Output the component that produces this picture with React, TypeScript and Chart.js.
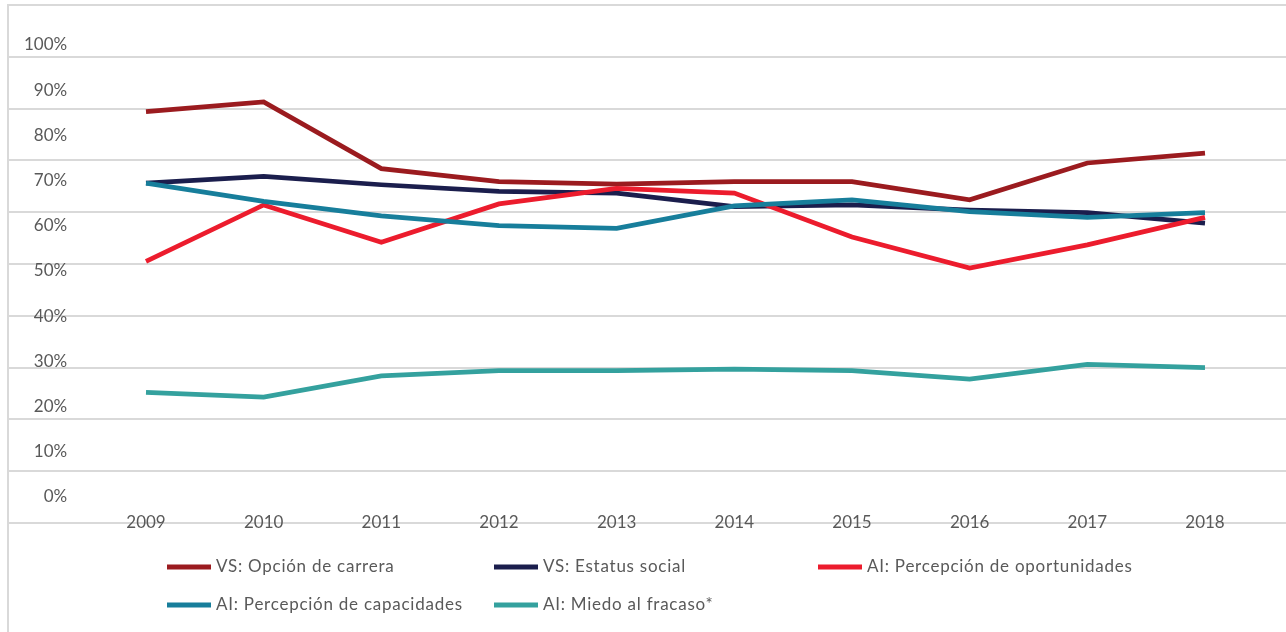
import React, { useEffect, useRef } from "react";
import { Chart, registerables } from "chart.js";

Chart.register(...registerables);

// ---------- data ----------
const years = [2009, 2010, 2011, 2012, 2013, 2014, 2015, 2016, 2017, 2018];
const yTickValues = [0, 10, 20, 30, 40, 50, 60, 70, 80, 90, 100];
const seriesLabels = [
  "VS: Opción de carrera",
  "VS: Estatus social",
  "AI: Percepción de oportunidades",
  "AI: Percepción de capacidades",
  "AI: Miedo al fracaso*",
];
const opcionCarrera = [79.4, 81.3, 68.4, 65.9, 65.4, 65.9, 65.9, 62.4, 69.5, 71.4];
const estatusSocial = [65.6, 66.9, 65.3, 64.0, 63.7, 61.1, 61.4, 60.4, 59.9, 57.9];
const percOportunidades = [50.5, 61.4, 54.2, 61.6, 64.6, 63.7, 55.2, 49.2, 53.7, 59.0];
const percCapacidades = [65.6, 62.1, 59.3, 57.4, 56.9, 61.2, 62.4, 60.1, 59.0, 59.9];
const miedoFracaso = [25.2, 24.3, 28.4, 29.4, 29.4, 29.7, 29.4, 27.8, 30.6, 30.0];

// ---------- styles / layout ----------
const seriesColors = ["#9B1B1F", "#1B1E4D", "#EC1C2D", "#177E9B", "#34A19E"];
const GRID = "#D9D9D9";
const TEXT = "#595959";
const FONT = "Lato, 'Open Sans', sans-serif";
const W = 1286;
const H = 632;
const AREA_LEFT = 8;
const AREA_TOP = 5;
const AREA_BOTTOM = 523;
// x scale range so that the first/last year land where the reference puts them
const X_PX_FIRST = 146;
const X_PX_LAST = 1205;
const pxPerYear = (X_PX_LAST - X_PX_FIRST) / (years[years.length - 1] - years[0]);
const X_MIN = years[0] - (X_PX_FIRST - AREA_LEFT) / pxPerYear;
const X_MAX = X_MIN + (W - AREA_LEFT) / pxPerYear;
// label axis (tick labels are drawn off the grid in the reference)
const LBL_PX_0 = 496.7;
const LBL_PX_100 = 45;
const lblPerUnit = (LBL_PX_0 - LBL_PX_100) / 100;
const LBL_MIN = -(AREA_BOTTOM - LBL_PX_0) / lblPerUnit;
const LBL_MAX = LBL_MIN + (AREA_BOTTOM - AREA_TOP) / lblPerUnit;

const legendSlots = [
  { x: 167, y: 567 },
  { x: 494, y: 567 },
  { x: 818, y: 567 },
  { x: 167, y: 605 },
  { x: 494, y: 605 },
];

const customLegend = {
  id: "customLegend",
  afterDraw(chart: any) {
    const ctx = chart.ctx as CanvasRenderingContext2D;
    ctx.save();
    // outer frame (left edge)
    ctx.strokeStyle = GRID;
    ctx.lineWidth = 2;
    ctx.beginPath();
    ctx.moveTo(8, AREA_TOP - 1);
    ctx.lineTo(8, H);
    ctx.stroke();
    // legend
    ctx.font = `17px ${FONT}`;
    (ctx as any).letterSpacing = "0.75px";
    ctx.textBaseline = "middle";
    ctx.textAlign = "left";
    chart.data.datasets.forEach((ds: any, i: number) => {
      const s = legendSlots[i];
      ctx.strokeStyle = ds.borderColor;
      ctx.lineWidth = 5;
      ctx.lineCap = "butt";
      ctx.beginPath();
      ctx.moveTo(s.x, s.y);
      ctx.lineTo(s.x + 44, s.y);
      ctx.stroke();
      ctx.fillStyle = TEXT;
      ctx.fillText(ds.label, s.x + 49, s.y);
    });
    ctx.restore();
  },
};

const zeroPadding = (s: any) => {
  s.paddingTop = 0;
  s.paddingBottom = 0;
  s.paddingLeft = 0;
  s.paddingRight = 0;
};

export default function App() {
  const ref = useRef<HTMLCanvasElement>(null);

  useEffect(() => {
    if (!ref.current) return;
    const seriesValues = [opcionCarrera, estatusSocial, percOportunidades, percCapacidades, miedoFracaso];
    const chart = new Chart(ref.current, {
      type: "line",
      data: {
        datasets: seriesValues.map((vals, i) => ({
          label: seriesLabels[i],
          data: years.map((yr, j) => ({ x: yr, y: vals[j] })),
          borderColor: seriesColors[i],
          backgroundColor: seriesColors[i],
          borderWidth: 4.75,
          pointRadius: 0,
          tension: 0,
          fill: false,
          order: seriesValues.length - i,
        })),
      },
      options: {
        animation: false,
        responsive: false,
        devicePixelRatio: 1,
        layout: {
          padding: { left: AREA_LEFT, top: AREA_TOP, right: 0, bottom: H - AREA_BOTTOM },
        },
        plugins: {
          legend: { display: false },
          tooltip: { enabled: false },
        },
        scales: {
          x: {
            type: "linear",
            min: X_MIN,
            max: X_MAX,
            grid: { display: false, drawTicks: false },
            border: { display: false },
            ticks: {
              mirror: true,
              padding: -10.2,
              color: TEXT,
              font: { family: FONT, size: 17 },
              maxRotation: 0,
              autoSkip: false,
              callback: (v: any) => String(v),
            },
            afterBuildTicks: (s: any) => {
              s.ticks = years.map((v) => ({ value: v }));
            },
            afterFit: (s: any) => {
              s.height = 0;
              zeroPadding(s);
            },
          },
          y: {
            type: "linear",
            position: "left",
            min: 0,
            max: 100,
            grid: { color: GRID, lineWidth: 2, drawTicks: false },
            border: { display: false },
            ticks: { display: false, stepSize: 10 },
            afterBuildTicks: (s: any) => {
              s.ticks = yTickValues.map((v) => ({ value: v }));
            },
            afterFit: (s: any) => {
              s.width = 0;
              zeroPadding(s);
            },
          },
          yl: {
            type: "linear",
            position: "left",
            min: LBL_MIN,
            max: LBL_MAX,
            bounds: "data",
            grid: { display: false, drawTicks: false },
            border: { display: false },
            ticks: {
              mirror: true,
              crossAlign: "far",
              padding: 16,
              color: TEXT,
              font: { family: FONT, size: 17 },
              callback: (v: any) => `${v}%`,
            },
            afterBuildTicks: (s: any) => {
              s.ticks = yTickValues.map((v) => ({ value: v }));
            },
            afterFit: (s: any) => {
              s.width = 0;
              zeroPadding(s);
            },
          },
        },
      },
      plugins: [customLegend],
    } as any);
    return () => chart.destroy();
  }, []);

  return (
    <div style={{ position: "absolute", left: 0, top: 0, width: W, height: H, background: "#fff" }}>
      <canvas ref={ref} width={W} height={H} style={{ width: W, height: H, display: "block" }} />
    </div>
  );
}
